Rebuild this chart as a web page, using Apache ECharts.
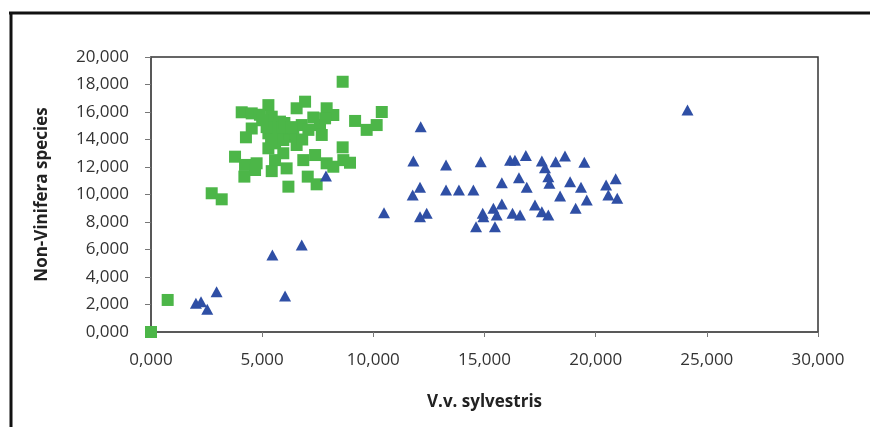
<!DOCTYPE html>
<html>
<head>
<meta charset="utf-8">
<script src="https://cdn.jsdelivr.net/npm/echarts@6/dist/echarts.min.js"></script>
<style>
  html, body { margin: 0; padding: 0; background: #fff; }
  #chart { width: 870px; height: 427px; }
</style>
</head>
<body>
<div id="chart"></div>
<script>
// values (axis units as shown, comma = decimal mark)
var greenX = [0.00, 0.75, 2.73, 3.18, 3.78, 4.08, 4.53, 5.28, 4.90, 5.43, 5.80, 6.55, 6.93, 7.90, 8.20,
  7.83, 9.18, 9.70, 10.15, 10.38, 4.53, 4.27, 5.28, 5.65, 6.10, 6.40, 6.78, 7.08, 7.60, 7.68,
  5.28, 5.58, 5.95, 6.55, 8.62, 4.23, 4.75, 5.58, 5.95, 6.85, 7.38, 7.90, 8.20, 8.65, 8.95,
  4.20, 4.68, 5.43, 6.10, 7.05, 7.45, 6.18, 8.62, 5.50, 5.70, 5.90, 5.40, 6.00, 5.20, 6.30,
  7.30, 6.80, 5.00];
var greenY = [0.00, 2.33, 10.09, 9.65, 12.75, 15.98, 15.90, 16.50, 15.80, 15.66, 15.30, 16.27, 16.75, 16.27, 15.78,
  15.54, 15.35, 14.70, 15.05, 16.00, 14.80, 14.16, 14.45, 14.70, 14.20, 14.45, 15.05, 14.70, 15.05, 14.33,
  13.36, 13.72, 13.96, 13.60, 13.43, 12.15, 12.27, 12.50, 13.00, 12.50, 12.87, 12.27, 12.02, 12.50, 12.31,
  11.30, 11.78, 11.70, 11.90, 11.30, 10.74, 10.57, 18.20, 15.00, 14.40, 14.90, 14.00, 15.20, 14.90, 14.90,
  15.60, 14.00, 15.40];

var blueX = [12.13, 11.80, 13.27, 14.83, 16.15, 16.37, 16.86, 17.58, 17.72, 18.20, 18.62, 19.49,
  12.10, 11.77, 13.27, 13.85, 14.50, 15.78, 16.55, 16.90, 17.87, 17.92, 18.85, 19.34, 18.40, 19.60,
  19.10, 20.47, 20.90, 20.57, 20.97, 12.10, 12.40, 14.92, 14.62, 15.40, 15.78, 15.55, 15.47, 16.26,
  16.60, 17.27, 17.58, 17.87, 14.95, 24.13, 10.48, 7.87, 5.46, 6.78, 6.03, 2.95, 2.02, 2.25, 2.53];
var blueY = [14.93, 12.44, 12.15, 12.39, 12.50, 12.50, 12.83, 12.44, 11.95, 12.39, 12.80, 12.34,
  10.52, 9.96, 10.33, 10.33, 10.33, 10.86, 11.22, 10.52, 11.30, 10.81, 10.93, 10.52, 9.89, 9.60,
  9.00, 10.69, 11.15, 9.96, 9.72, 8.39, 8.63, 8.63, 7.66, 9.00, 9.31, 8.51, 7.66, 8.63,
  8.51, 9.24, 8.75, 8.51, 8.39, 16.15, 8.68, 11.35, 5.60, 6.33, 2.62, 2.93, 2.09, 2.20, 1.65];

function zip(xs, ys) {
  return xs.map(function (x, i) { return [x, ys[i]]; });
}
function fmt(v) {
  return v.toFixed(3).replace('.', ',');
}

var FONT = '"Open Sans", "Liberation Sans", sans-serif';
var chart = echarts.init(document.getElementById('chart'));

chart.setOption({
  backgroundColor: '#fff',
  animation: false,
  grid: {
    left: 151, right: 52, top: 57, bottom: 95,
    show: true, borderColor: '#333', borderWidth: 1.5
  },
  graphic: [
    { type: 'line', shape: { x1: 9, y1: 13, x2: 870, y2: 13 }, style: { stroke: '#111', lineWidth: 3 } },
    { type: 'line', shape: { x1: 11, y1: 12, x2: 11, y2: 427 }, style: { stroke: '#111', lineWidth: 3 } }
  ],
  xAxis: {
    type: 'value', min: 0, max: 30, interval: 5,
    name: 'V.v. sylvestris', nameLocation: 'middle', nameGap: 62,
    nameTextStyle: { fontFamily: FONT, fontSize: 17, fontWeight: 'bold', color: '#222' },
    axisLine: { show: true, lineStyle: { color: '#555', width: 1.5 } },
    axisTick: { show: true, length: 5, lineStyle: { color: '#777' } },
    axisLabel: { formatter: fmt, fontFamily: FONT, fontSize: 17, color: '#333', margin: 20 },
    splitLine: { show: false }
  },
  yAxis: {
    type: 'value', min: 0, max: 20, interval: 2,
    name: 'Non-Vinifera species', nameLocation: 'middle', nameGap: 100, nameRotate: 90,
    nameTextStyle: { fontFamily: FONT, fontSize: 17, fontWeight: 'bold', color: '#222' },
    axisLine: { show: true, lineStyle: { color: '#555', width: 1.5 } },
    axisTick: { show: true, length: 6, lineStyle: { color: '#777' } },
    axisLabel: { formatter: fmt, fontFamily: FONT, fontSize: 17, color: '#333', margin: 22 },
    splitLine: { show: false }
  },
  series: [
    {
      name: 'green', type: 'scatter', symbol: 'rect', symbolSize: 12,
      itemStyle: { color: '#4cb648', opacity: 1 },
      data: zip(greenX, greenY)
    },
    {
      name: 'blue', type: 'scatter', symbol: 'triangle', symbolSize: [12, 11],
      itemStyle: { color: '#2f4fa5', opacity: 1 },
      data: zip(blueX, blueY)
    }
  ]
});
</script>
</body>
</html>
